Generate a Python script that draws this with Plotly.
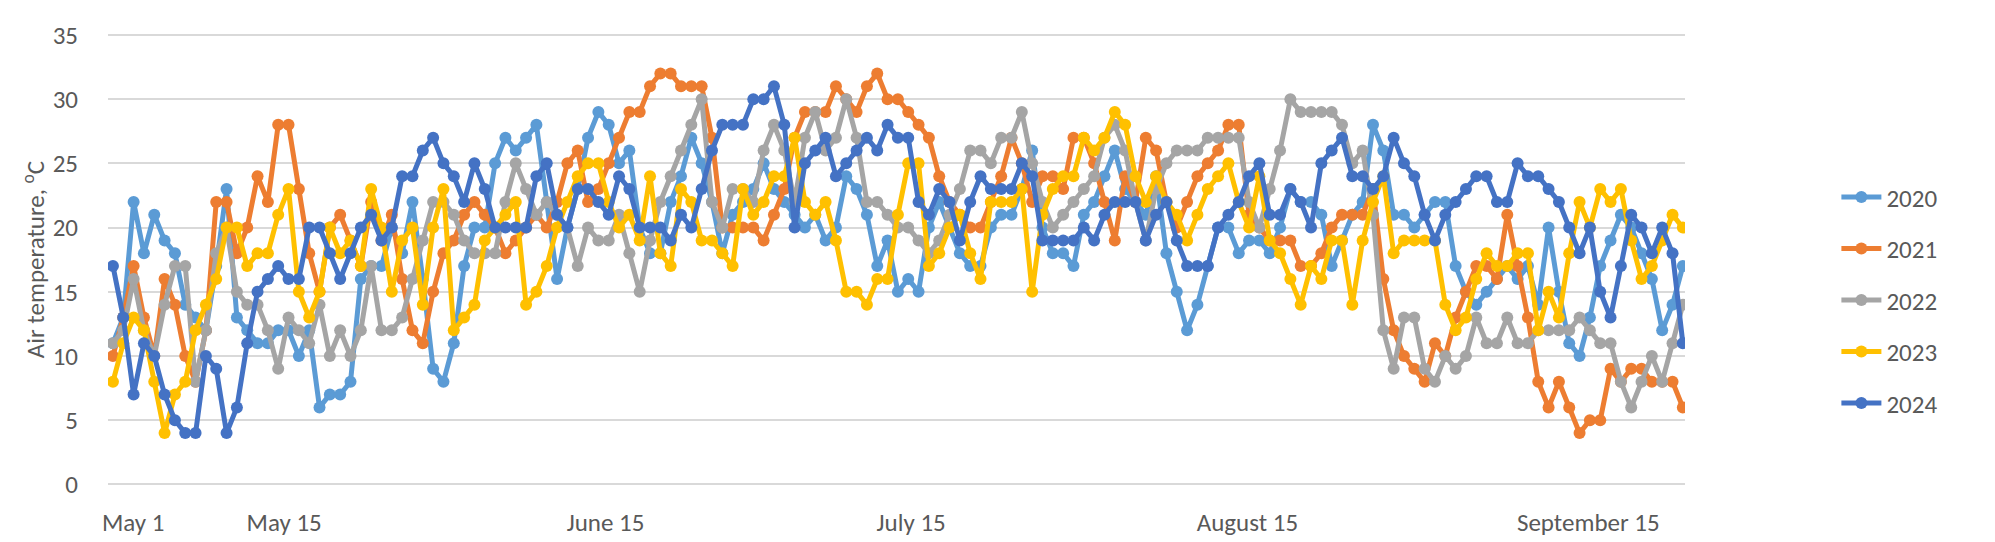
import pandas as pd
import plotly.graph_objects as go

# daily air temperature, May 1 .. September 30
dates = pd.date_range("2024-05-01", "2024-09-30", freq="D")

t2020 = [11, 13, 22, 18, 21, 19, 18, 14, 13, 12, 17, 23, 13, 12, 11, 11, 12, 12, 10,
         12, 6, 7, 7, 8, 16, 17, 17, 20, 18, 22, 16, 9, 8, 11, 17,
         20, 20, 25, 27, 26, 27, 28, 22, 16, 20, 23, 27, 29, 28, 25, 26,
         20, 18, 18, 22, 24, 27, 25, 22, 18, 21, 22, 23, 25, 23, 22, 21, 20, 21,
         19, 20, 24, 23, 21, 17, 19, 15, 16, 15, 20, 22, 20, 18, 17, 17, 20,
         21, 21, 23, 26, 20, 18, 18, 17, 21, 22, 24, 26, 23, 22, 21, 24, 18,
         15, 12, 14, 17, 20, 20, 18, 19, 19, 18, 20, 23, 22, 22, 21, 17, 19, 21, 22, 28,
         26, 21, 21, 20, 21, 22, 22, 17, 15, 14, 15, 16, 17, 16, 17, 14, 20, 15, 11, 10,
         13, 17, 19, 21, 20, 18, 16, 12, 14, 17]

t2021 = [10, 13, 17, 13, 10, 16, 14, 10, 8, 12, 22, 22, 18, 20, 24, 22, 28, 28, 23,
         18, 15, 20, 21, 19, 17, 22, 19, 21, 16, 12, 11, 15, 18, 19, 21,
         22, 21, 20, 18, 19, 20, 21, 20, 22, 25, 26, 22, 23, 25, 27, 29,
         29, 31, 32, 32, 31, 31, 31, 27, 20, 20, 20, 20, 19, 21, 23, 27, 29,
         29, 29, 31, 30, 29, 31, 32, 30, 30, 29, 28, 27, 24, 22, 21, 20, 20, 22,
         24, 27, 25, 22, 24, 24, 23, 27, 27, 25, 22, 19, 24, 22, 27,
         26, 22, 20, 22, 24, 25, 26, 28, 28, 21, 20, 19, 19, 19, 17, 17, 18, 20, 21, 21,
         21, 23, 16, 12, 10, 9, 8, 11, 10, 13, 15, 17, 17, 16, 21, 17, 13, 8, 6, 8,
         6, 4, 5, 5, 9, 8, 9, 9, 8, 8, 8, 6]

t2022 = [11, 12, 16, 12, 10, 14, 17, 17, 8, 12, 18, 20, 15, 14, 14, 12, 9, 13, 12,
         11, 14, 10, 12, 10, 12, 17, 12, 12, 13, 16, 19, 22, 22,
         21, 19, 18, 18, 18, 22, 25, 23, 21, 22, 21, 20, 17, 20, 19, 19, 21, 18, 15,
         19, 22, 24, 26, 28, 30, 22, 20, 23, 23, 22, 26, 28, 26, 22, 27, 29,
         26, 27, 30, 27, 22, 22, 21, 20, 20, 19, 18, 19, 21, 23, 26, 26, 25,
         27, 27, 29, 25, 22, 20, 21, 22, 23, 24, 27, 28, 26, 22, 19,
         23, 25, 26, 26, 26, 27, 27, 27, 27, 22, 20, 23, 26, 30, 29, 29, 29, 29, 28, 25,
         26, 21, 12, 9, 13, 13, 9, 8, 10, 9, 10, 13, 11, 11, 13, 11, 11, 12, 12, 12,
         12, 13, 12, 11, 11, 8, 6, 8, 10, 8, 11, 14]

t2023 = [8, 11, 13, 12, 8, 4, 7, 8, 12, 14, 16, 20, 20, 17, 18, 18, 21,
         23, 15, 13, 15, 20, 18, 19, 17, 23, 20, 15, 19, 20, 14, 20, 23,
         12, 13, 14, 19, 20, 21, 22, 14, 15, 17, 20, 22, 24, 25, 25, 22, 20, 21, 19,
         24, 18, 17, 23, 22, 19, 19, 18, 17, 23, 21, 22, 24, 24, 27, 22, 21,
         22, 19, 15, 15, 14, 16, 16, 21, 25, 25, 17, 18, 20, 21, 18, 16, 22,
         22, 22, 23, 15, 21, 23, 24, 24, 27, 26, 27, 29, 28, 24, 22,
         24, 22, 21, 19, 21, 23, 24, 25, 22, 20, 24, 19, 18, 16, 14, 17, 16, 19, 19, 14,
         19, 22, 24, 18, 19, 19, 19, 19, 14, 12, 13, 16, 18, 17, 17, 18, 18, 12, 15, 13,
         18, 22, 20, 23, 22, 23, 19, 16, 17, 19, 21, 20]

t2024 = [17, 13, 7, 11, 10, 7, 5, 4, 4, 10, 9, 4, 6, 11, 15, 16, 17,
         16, 16, 20, 20, 18, 16, 18, 20, 21, 19, 20, 24, 24, 26, 27, 25,
         24, 22, 25, 23, 20, 20, 20, 20, 24, 25, 21, 20, 23, 23, 22, 21, 24, 23,
         20, 20, 20, 19, 21, 20, 23, 26, 28, 28, 28, 30, 30, 31, 28, 20, 25, 26,
         27, 24, 25, 26, 27, 26, 28, 27, 27, 22, 21, 23, 22, 19, 22, 24, 23,
         23, 23, 25, 24, 19, 19, 19, 19, 20, 19, 21, 22, 22, 22, 19, 21,
         22, 19, 17, 17, 17, 20, 21, 22, 24, 25, 21, 21, 23, 22, 20, 25, 26, 27, 24, 24,
         23, 24, 27, 25, 24, 21, 19, 21, 22, 23, 24, 24, 22, 22, 25, 24, 24, 23, 22, 20,
         18, 20, 15, 13, 17, 21, 20, 18, 20, 18, 11]

series = {"2020": t2020, "2021": t2021, "2022": t2022, "2023": t2023, "2024": t2024}
colors = {"2020": "#5B9BD5", "2021": "#ED7D31", "2022": "#A5A5A5",
          "2023": "#FFC000", "2024": "#4472C4"}

tick_dates = ["2024-05-01", "2024-05-15", "2024-06-15", "2024-07-15",
              "2024-08-15", "2024-09-15"]
tick_labels = ["May 1", "May 15", "June 15", "July 15", "August 15", "September 15"]
y_ticks = [0, 5, 10, 15, 20, 25, 30, 35]

FONT = "Calibri, Carlito, Lato, sans-serif"
TXT = "#595959"

fig = go.Figure()
for name, vals in series.items():
    fig.add_trace(go.Scatter(
        x=dates,
        y=vals,
        mode="lines+markers",
        name=name,
        legendgroup=name,
        line=dict(color=colors[name], width=5),
        marker=dict(color=colors[name], size=12),
    ))

fig.update_layout(
    width=1995,
    height=542,
    margin=dict(l=100, r=318, t=14, b=59),
    plot_bgcolor="white",
    paper_bgcolor="white",
    font=dict(family=FONT, size=25, color=TXT),
    legend=dict(
        x=1.096, xanchor="left",
        y=0.41, yanchor="middle",
        font=dict(family=FONT, size=25, color=TXT),
        tracegroupgap=16,
        itemwidth=40,
    ),
)

fig.update_xaxes(
    type="date",
    range=["2024-04-30 12:30", "2024-09-30 05:00"],
    tickvals=tick_dates,
    ticktext=tick_labels,
    ticklabelposition="outside right",
    ticklabelstandoff=19,
    ticklabelshift=-11,
    ticks="",
    showgrid=False,
    showline=False,
    zeroline=False,
    tickfont=dict(family=FONT, size=25, color=TXT),
)

# range padded a little so the 0 and 35 grid lines are not clipped at the edges
fig.update_yaxes(
    range=[-0.12, 35.15],
    tickvals=y_ticks,
    showgrid=True,
    gridcolor="#D9D9D9",
    gridwidth=2,
    zeroline=False,
    showline=False,
    ticks="",
    ticklabelstandoff=29,
    ticklabeloverflow="allow",
    tickfont=dict(family=FONT, size=25, color=TXT),
    title=dict(text="Air temperature, <sup>o</sup>C", standoff=0,
               font=dict(family=FONT, size=25, color=TXT)),
)

fig.write_html("out.html")
